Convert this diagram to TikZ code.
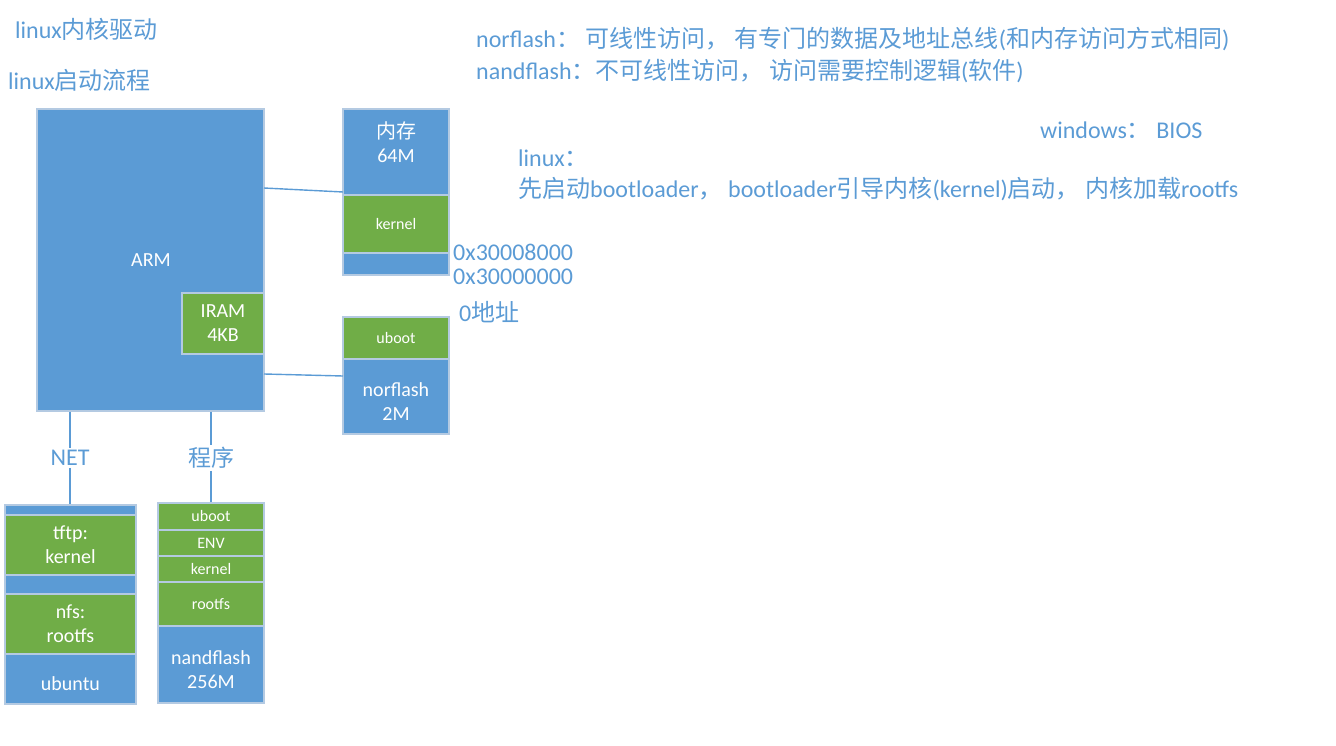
\documentclass[tikz,border=0pt]{standalone}
\usepackage{fontspec}
\setmainfont{Carlito}
\newfontfamily\cjkfont{Noto Sans CJK SC}
\newcommand\ZH[1]{{\cjkfont #1}}
\newcommand\fs[1]{\fontsize{#1}{\dimexpr #1pt*12/10\relax}\selectfont}
\definecolor{bblue}{HTML}{5B9BD5}
\definecolor{bgreen}{HTML}{70AD47}
\definecolor{bord}{HTML}{B4CAE2}
\definecolor{tblue}{HTML}{5B9BD5}
\tikzset{
  blk/.style={draw=bord, line width=1.2pt, fill=bblue, inner sep=0pt, text=white, align=center, font=\fs{16}},
  gblk/.style={blk, fill=bgreen},
  lbl/.style={text=white, align=center, inner sep=0pt, font=\fs{20}},
  note/.style={text=tblue, anchor=west, inner sep=0pt, font=\fs{24}},
  conn/.style={draw=bblue, line width=1.4pt},
}
\begin{document}
\begin{tikzpicture}[x=1pt,y=-1pt]
\useasboundingbox (0,0) rectangle (1336,746);
% ARM
\node[blk, minimum width=227pt, minimum height=302pt] (arm) at (150.5,260) {};
\node[lbl] (armlbl) at (151,260) {ARM};
\node[gblk, minimum width=82pt, minimum height=61pt, font=\fs{20}] (iram) at (223,323.5) {IRAM\\4KB};
% memory
\node[blk, minimum width=106pt, minimum height=86pt] (memtop) at (396,152) {};
\node[lbl] (memlbl) at (396,142) {\ZH{内存}\\64M};
\node[gblk, minimum width=106pt, minimum height=58pt] (memker) at (396,224) {kernel};
\node[blk, minimum width=106pt, minimum height=22pt] (membot) at (396,264) {};
% norflash
\node[gblk, minimum width=106pt, minimum height=42pt] (noruboot) at (396,338) {uboot};
\node[blk, minimum width=106pt, minimum height=75pt] (norflash) at (396,396.5) {};
\node[lbl] (norlbl) at (396,402) {norflash\\2M};
% ubuntu stack
\node[blk, minimum width=131pt, minimum height=10pt] (ubtop) at (70.5,510) {};
\node[gblk, minimum width=131pt, minimum height=60pt] (tftp) at (70.5,545) {};
\node[lbl] (tftplbl) at (70.5,545) {tftp:\\kernel};
\node[blk, minimum width=131pt, minimum height=19pt] (ubmid) at (70.5,584.5) {};
\node[gblk, minimum width=131pt, minimum height=60pt] (nfs) at (70.5,624) {};
\node[lbl] (nfslbl) at (70.5,624) {nfs:\\rootfs};
\node[blk, minimum width=131pt, minimum height=50pt] (ubuntu) at (70.5,679) {};
\node[lbl] (ubuntulbl) at (70.5,684) {ubuntu};
% nand stack
\node[gblk, minimum width=106pt, minimum height=27pt] (nuboot) at (211,516.5) {uboot};
\node[gblk, minimum width=106pt, minimum height=26pt] (nenv) at (211,543) {ENV};
\node[gblk, minimum width=106pt, minimum height=26pt] (nker) at (211,569) {kernel};
\node[gblk, minimum width=106pt, minimum height=44pt] (nroot) at (211,604) {rootfs};
\node[blk, minimum width=106pt, minimum height=77pt] (nand) at (211,664.5) {};
\node[lbl] (nandlbl) at (211,670) {nandflash\\256M};
% connectors
\node[text=tblue, inner sep=2pt, font=\fs{24}] (net) at (70,458) {NET};
\node[text=tblue, inner sep=2pt, font=\fs{23}] (prog) at (211,458) {\ZH{程序}};
\draw[conn] (arm.south -| net) -- (net.north);
\draw[conn] (net.south) -- (ubtop.north -| net);
\draw[conn] (arm.south -| prog) -- (prog.north);
\draw[conn] (prog.south) -- (nuboot.north);
\coordinate (a1) at (264,188);
\coordinate (m1) at (343,192);
\coordinate (a2) at (264,374);
\coordinate (m2) at (343,376);
\draw[conn] (a1) -- (m1);
\draw[conn] (a2) -- (m2);
% addresses
\node[note] (addr1) at (453,252) {0x30008000};
\node[note] (addr2) at (453,277) {0x30000000};
\node[note] (addr0) at (459,312) {0\ZH{地址}};
% notes
\node[note] (t1) at (15,29) {linux\ZH{内核驱动}};
\node[note] (t2) at (8,80) {linux\ZH{启动流程}};
\node[note] (n1) at (476,39) {norflash\ZH{：\ 可线性访问，\ 有专门的数据及地址总线}(\ZH{和内存访问方式相同})};
\node[note] (n2) at (476,71) {nandflash\ZH{：不可线性访问，\ 访问需要控制逻辑}(\ZH{软件})};
\node[note] (w1) at (1040,130) {windows\ZH{：}\ BIOS};
\node[note] (l1) at (518,158) {linux\ZH{：}};
\node[note] (l2) at (518,189) {\ZH{先启动}bootloader\ZH{，}\ bootloader\ZH{引导内核}(kernel)\ZH{启动，\ 内核加载}rootfs};
\end{tikzpicture}
\end{document}
